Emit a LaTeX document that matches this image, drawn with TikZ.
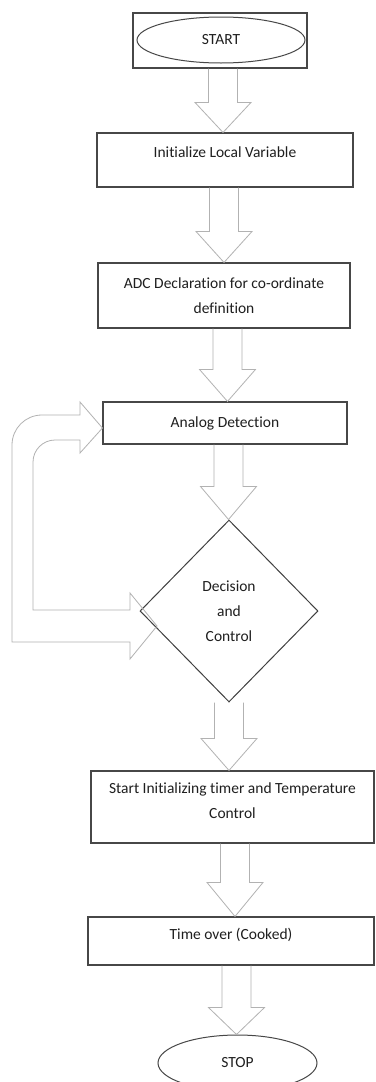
\documentclass[tikz,border=0pt]{standalone}
\usepackage{fontspec}
\setmainfont{Carlito}[Ligatures=NoCommon]
\usetikzlibrary{shapes.geometric,calc}

\tikzset{
  box/.style={rectangle, draw=black!72, line width=1.1pt, inner sep=0pt},
  txt/.style={font=\fontsize{15.5}{25}\selectfont, text=black!88, align=center},
  term/.style={ellipse, draw=black!72, line width=1pt, inner sep=0pt},
  decide/.style={diamond, draw=black!75, line width=1pt, inner sep=0pt},
  hollow/.style={draw=black!30, line width=0.8pt, line join=miter},
}

% hollow block arrow pointing down from one node to the next:
% #1 source node, #2 target node, #3 x of the arrow axis, #4 head length
\newcommand\blockarrow[4]{%
  \draw[hollow] let \p1=(#1.south), \p2=(#2.north) in
    (#3pt-14.5pt,\y1) -- (#3pt-14.5pt,\y2+#4pt) -- (#3pt-28pt,\y2+#4pt)
    -- (#3pt,\y2) -- (#3pt+28pt,\y2+#4pt) -- (#3pt+14.5pt,\y2+#4pt)
    -- (#3pt+14.5pt,\y1);
}

\begin{document}
\begin{tikzpicture}[x=1pt,y=-1pt]
\useasboundingbox[fill=white] (0,0) rectangle (375,1082);

% start terminal inside its frame
\node[box, minimum width=174pt, minimum height=55pt] (s0) at (220,40.5) {};
\node[term, txt, minimum width=168pt, minimum height=46pt] (start) at (221,40) {START};

% process steps
\node[box, minimum width=256pt, minimum height=54pt,
      label={[txt, yshift=8pt]center:Initialize Local Variable}] (b2) at (225,160) {};
\node[box, txt, minimum width=252pt, minimum height=65pt] (b3) at (224,295.5)
      {ADC Declaration for co-ordinate\\definition};
\node[box, txt, minimum width=244pt, minimum height=42pt] (b4) at (225,423) {Analog Detection};
\node[decide, txt, minimum width=178pt, minimum height=182pt] (dc) at (229,611)
      {Decision\\and\\Control};
\node[box, minimum width=283pt, minimum height=72pt,
      label={[txt, yshift=6.5pt]center:Start Initializing timer and Temperature\\Control}] (b5) at (232.5,807) {};
\node[box, minimum width=286pt, minimum height=48pt,
      label={[txt, yshift=6pt]center:Time over (Cooked)}] (b6) at (231,941) {};
\node[term, txt, minimum width=159pt, minimum height=56pt] (stop) at (237.5,1063) {STOP};

% flow arrows
\blockarrow{s0}{b2}{223}{30}
\blockarrow{b2}{b3}{224}{31}
\blockarrow{b3}{b4}{227.5}{32}
\blockarrow{b4}{dc}{228.5}{33}
\blockarrow{dc}{b5}{229}{32}
\blockarrow{b5}{b6}{235}{34}
\blockarrow{b6}{stop}{236.5}{27}

% feedback arrow from the decision back round to the detection step
\draw[hollow] (130,642) -- (12,642) -- (12,445)
  .. controls (12,428.4) and (25.4,415) .. (42,415) -- (80,415) -- (80,402)
  -- (b4.west |- 0,428) -- (80,453) -- (80,440) -- (55,440)
  .. controls (42.9,440) and (33,449.9) .. (33,462) -- (33,610) -- (130,610)
  -- (130,593) -- (157,626) -- (130,659) -- cycle;
\end{tikzpicture}
\end{document}
